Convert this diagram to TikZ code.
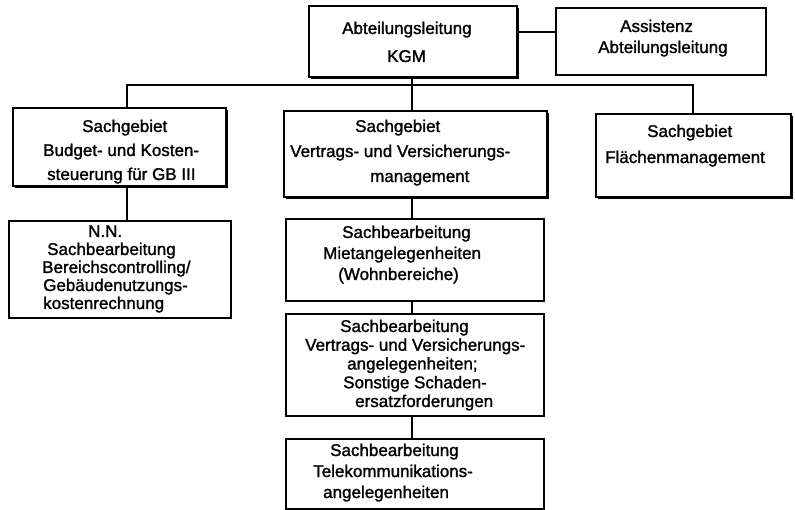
\documentclass[tikz,border=0pt]{standalone}
\usepackage{fontspec}
\setmainfont{Liberation Sans}[BoldFont=Liberation Sans, BoldFeatures={FakeBold=1.4}]
% block of lines at 17pt with a given line pitch; the baseline is the first line's
\newcommand\orgtext[2]{\fontsize{17}{#1}\selectfont\bfseries\begin{tabular}[t]{@{}l@{}}#2\end{tabular}}

\begin{document}
\begin{tikzpicture}[x=1pt,y=-1pt,
  orgbox/.style={draw=black, line width=1.8pt, fill=white, inner sep=0pt, anchor=north west},
  shadowed/.style={preaction={fill=black, transform canvas={shift={(2.5pt,-2.5pt)}}}},
  link/.style={line width=1.8pt},
  txt/.style={anchor=base west, inner sep=0pt}]

\fill[white] (0,0) rectangle (795,510);
\useasboundingbox (0,0) rectangle (795,510);

% units
\node[orgbox, shadowed, minimum width=208pt, minimum height=71pt] (head) at (308,5) {};
\node[orgbox, minimum width=210pt, minimum height=67pt] (asst) at (555,7) {};
\node[orgbox, shadowed, minimum width=213pt, minimum height=78pt] (budget) at (12,107) {};
\node[orgbox, shadowed, minimum width=263pt, minimum height=86pt] (vertrag) at (283,110) {};
\node[orgbox, shadowed, minimum width=195pt, minimum height=83pt] (flaeche) at (595,113) {};
\node[orgbox, minimum width=222pt, minimum height=97pt] (controll) at (8,220) {};
\node[orgbox, minimum width=258pt, minimum height=82pt] (miet) at (285,218) {};
\node[orgbox, minimum width=258pt, minimum height=102pt] (versich) at (285,313) {};
\node[orgbox, minimum width=258pt, minimum height=70pt] (telekom) at (285,438) {};

% connectors
\coordinate (ha) at (530,32);
\coordinate (dropL) at (127,85);
\coordinate (dropR) at (693,85);
\coordinate (spine) at (412,0);
\draw[link] (head.east |- ha) -- (asst.west |- ha);
\draw[link] (spine |- head.south) -- (spine |- vertrag.north);
\draw[link] (dropL |- budget.north) -- (dropL) -- (dropR) -- (dropR |- flaeche.north);
\draw[link] (dropL |- budget.south) -- (dropL |- controll.north);
\draw[link] (spine |- vertrag.south) -- (spine |- miet.north);
\draw[link] (spine |- miet.south) -- (spine |- versich.north);
\draw[link] (spine |- versich.south) -- (spine |- telekom.north);

% texts
\node[txt] (t-head) at (342,34) {\orgtext{28}{Abteilungsleitung\\\hspace*{45pt}KGM}};
\node[txt] (t-asst) at (598,32) {\orgtext{21}{\hspace*{22pt}Assistenz\\Abteilungsleitung}};
\node[txt] (t-budget) at (43,132) {\orgtext{24}{\hspace*{39pt}Sachgebiet\\Budget- und Kosten-\\\hspace*{4pt}steuerung für GB III}};
\node[txt] (t-vertrag) at (290,132) {\orgtext{25}{\hspace*{65pt}Sachgebiet\\Vertrags- und Versicherungs-\\\hspace*{80pt}management}};
\node[txt] (t-flaeche) at (605,137) {\orgtext{26}{\hspace*{42pt}Sachgebiet\\Flächenmanagement}};
\node[txt] (t-controll) at (42,237) {\orgtext{18}{\hspace*{46pt}N.N.\\\hspace*{5pt}Sachbearbeitung\\Bereichscontrolling/\\\hspace*{1pt}Gebäudenutzungs-\\\hspace*{1pt}kostenrechnung}};
\node[txt] (t-miet) at (323,238) {\orgtext{21}{\hspace*{19pt}Sachbearbeitung\\Mietangelegenheiten\\\hspace*{15pt}(Wohnbereiche)}};
\node[txt] (t-versich) at (305,332) {\orgtext{18.75}{\hspace*{35pt}Sachbearbeitung\\Vertrags- und Versicherungs-\\\hspace*{42pt}angelegenheiten;\\\hspace*{38pt}Sonstige Schaden-\\\hspace*{50pt}ersatzforderungen}};
\node[txt] (t-telekom) at (313,456) {\orgtext{21}{\hspace*{17pt}Sachbearbeitung\\Telekommunikations-\\\hspace*{10pt}angelegenheiten}};
\end{tikzpicture}
\end{document}
